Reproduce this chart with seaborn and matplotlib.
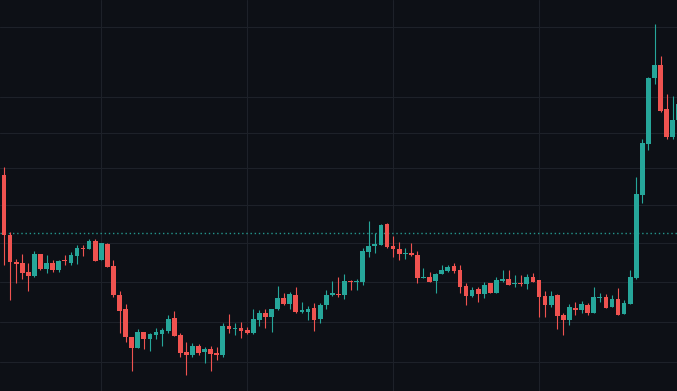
import numpy as np
import pandas as pd
import matplotlib
matplotlib.use("Agg")
import matplotlib.pyplot as plt
import seaborn as sns

# OHLC per bar (price units)
opens = [216, 156, 129, 128, 119, 115, 137, 122, 128, 121,
         131, 128, 135, 143, 142, 150, 131, 147, 125, 96,
         82, 54, 43, 59, 52, 56, 57, 60, 73, 56,
         39, 36, 45, 39, 42, 38, 36, 65, 62, 63,
         61, 58, 71, 78, 74, 82, 93, 87, 96, 79,
         79, 83, 72, 86, 96, 97, 96, 110, 109, 109,
         139, 145, 146, 167, 145, 142, 137, 138, 136, 113,
         114, 110, 117, 120, 125, 121, 105, 95, 102, 97,
         108, 98, 110, 112, 107, 108, 107, 114, 111, 95,
         86, 96, 76, 71, 83, 81, 86, 78, 93, 94,
         84, 92, 77, 87, 113, 196, 247, 313, 326, 282,
         254, 271]
closes = [156, 129, 127, 118, 115, 137, 122, 128, 121, 130,
          130, 136, 143, 142, 150, 130, 148, 124, 96, 80,
          54, 43, 59, 52, 57, 59, 61, 72, 55, 38,
          36, 45, 38, 42, 37, 36, 65, 62, 63, 60,
          58, 72, 78, 74, 82, 93, 87, 97, 79, 81,
          82, 71, 86, 96, 98, 96, 110, 109, 110, 140,
          145, 147, 166, 144, 142, 137, 138, 136, 113, 114,
          109, 117, 121, 124, 120, 104, 95, 101, 97, 106,
          98, 111, 112, 106, 108, 107, 114, 109, 94, 86,
          95, 75, 71, 84, 81, 87, 78, 94, 94, 83,
          92, 76, 88, 114, 197, 248, 313, 326, 280, 254,
          271, 287]
highs = [224, 159, 132, 137, 128, 140, 137, 136, 131, 131,
         136, 139, 146, 146, 152, 152, 148, 148, 131, 100,
         87, 54, 62, 59, 58, 63, 63, 76, 80, 58,
         49, 48, 47, 44, 45, 44, 68, 77, 68, 69,
         64, 82, 81, 82, 82, 105, 98, 99, 104, 89,
         85, 88, 88, 101, 110, 114, 117, 111, 112, 143,
         170, 158, 167, 168, 155, 149, 143, 148, 140, 123,
         119, 118, 126, 126, 128, 126, 108, 104, 104, 109,
         108, 114, 121, 121, 116, 116, 117, 118, 111, 100,
         100, 97, 78, 87, 89, 90, 88, 104, 98, 97,
         96, 103, 91, 121, 214, 252, 314, 367, 335, 297,
         295, 295]
lows = [126, 91, 108, 112, 100, 114, 121, 118, 119, 119,
        126, 126, 127, 135, 142, 130, 131, 124, 94, 58,
        49, 20, 43, 42, 40, 52, 45, 58, 55, 34,
        16, 34, 36, 28, 20, 31, 34, 58, 56, 53,
        57, 57, 65, 63, 59, 81, 86, 82, 78, 78,
        71, 60, 68, 82, 95, 94, 92, 101, 101, 106,
        134, 138, 146, 143, 134, 131, 132, 135, 108, 113,
        109, 98, 117, 119, 118, 98, 86, 94, 89, 93,
        98, 98, 109, 106, 104, 105, 102, 109, 74, 74,
        84, 62, 56, 66, 76, 78, 76, 78, 89, 83,
        84, 76, 77, 87, 112, 188, 241, 307, 279, 252,
        252, 266]

price_line = 158.5
grid_prices = [29, 69, 109, 148, 186, 223, 258, 294, 364]
grid_bars = [16, 40, 64, 88]

bg = "#0d1016"
up_col = "#26a69a"
down_col = "#ef5350"

sns.set_theme(style="darkgrid", rc={
    "axes.facecolor": bg,
    "figure.facecolor": bg,
    "grid.color": "#1d2129",
    "grid.linewidth": 0.8,
})

df = pd.DataFrame({"open": opens, "high": highs, "low": lows, "close": closes})
df["bar"] = np.arange(len(df))
df["up"] = df["close"] >= df["open"]
df["color"] = np.where(df["up"], up_col, down_col)
df["body_lo"] = df[["open", "close"]].min(axis=1)
df["body_h"] = (df["close"] - df["open"]).abs().clip(lower=1)

fig = plt.figure(figsize=(6.77, 3.91), dpi=100)
ax = fig.add_axes([0, 0, 1, 1])

# last-price line
ax.axhline(price_line, color=up_col, lw=1.0, ls=(0, (1, 2)), alpha=0.9, zorder=1)
# wicks then bodies
ax.vlines(df["bar"], df["low"], df["high"], colors=df["color"], lw=0.8, zorder=2)
ax.bar(df["bar"], df["body_h"], bottom=df["body_lo"], width=0.78,
       color=df["color"], linewidth=0, zorder=3)

ax.set_xlim(-0.66, 110.7)
ax.set_ylim(0, 391)
ax.set_yticks(grid_prices)
ax.set_xticks(grid_bars)
ax.tick_params(labelleft=False, labelbottom=False, length=0)
for s in ax.spines.values():
    s.set_visible(False)

fig.savefig("out.png", dpi=100, facecolor=bg)
